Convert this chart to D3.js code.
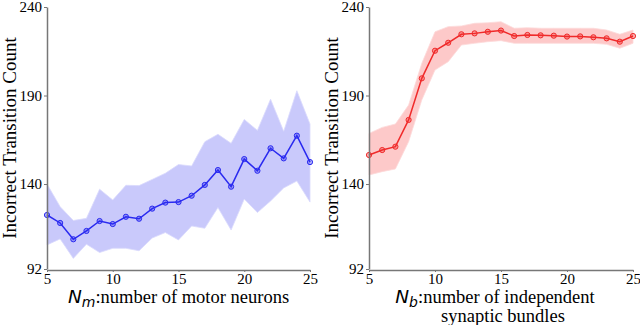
<!DOCTYPE html>
<html>
<head>
<meta charset="utf-8">
<script src="https://cdn.jsdelivr.net/npm/d3@7"></script>
<style>
body { margin: 0; background: #fff; }
.axis text { font-family: "Liberation Serif", "Times New Roman", serif; font-size: 15px; fill: #000; }
.axis path, .axis line { stroke: #777; }
.lbl { font-family: "Liberation Serif", "Times New Roman", serif; font-size: 19px; fill: #000; }
.xl { font-size: 18.5px; }
.math { font-family: "DejaVu Sans", sans-serif; font-style: oblique; }
</style>
</head>
<body>
<div id="chart"></div>
<script>
// x values shared by both panels
var xVals = d3.range(5, 26);

// left panel: number of motor neurons
var motorMean  = [122.5, 118.0, 108.8, 113.5, 119.1, 117.4, 121.5, 120.4, 126.1, 129.5, 129.8,
                  133.4, 139.5, 147.9, 138.5, 154.1, 147.5, 160.2, 154.5, 167.3, 152.4];
var motorUpper = [140.0, 127.2, 119.4, 120.6, 137.1, 131.0, 139.3, 139.1, 142.6, 146.1, 151.0,
                  150.2, 163.9, 168.1, 163.0, 176.5, 170.3, 187.9, 169.8, 192.7, 173.9];
var motorLower = [105.6, 109.0, 98.0, 106.0, 101.3, 103.7, 103.7, 102.3, 109.5, 112.6, 108.4,
                  116.3, 115.0, 126.7, 114.0, 131.5, 123.9, 130.4, 137.8, 141.7, 129.8];

// right panel: number of independent synaptic bundles
var bundleMean  = [156.4, 159.2, 161.1, 176.2, 199.7, 215.3, 219.8, 224.6, 225.1, 226.0, 226.7,
                   223.6, 224.2, 224.0, 223.8, 223.3, 223.4, 222.9, 222.3, 220.4, 223.6];
var bundleUpper = [168.6, 172.0, 173.9, 184.6, 208.2, 226.0, 228.9, 229.3, 230.8, 231.1, 231.7,
                   228.0, 228.3, 228.0, 228.0, 228.0, 228.0, 228.0, 227.0, 224.6, 227.0];
var bundleLower = [145.1, 147.0, 148.5, 163.9, 187.5, 204.4, 209.1, 218.5, 219.5, 220.4, 221.0,
                   219.5, 219.5, 219.5, 219.5, 219.5, 219.5, 219.5, 218.9, 216.7, 219.5];

var yTicks = [92, 140, 190, 240];
var xTicks = [5, 10, 15, 20, 25];

var svg = d3.select("#chart").append("svg")
    .attr("width", 640)
    .attr("height", 325);

function drawPanel(opt) {
    var x = d3.scaleLinear().domain([5, 25]).range([opt.left, opt.right]);
    var y = d3.scaleLinear().domain([92, 240]).range([269, 7]);

    var rows = xVals.map(function(v, i) {
        return {x: v, m: opt.mean[i], hi: opt.upper[i], lo: opt.lower[i]};
    });

    var g = svg.append("g");

    // shaded band
    g.append("path")
        .datum(rows)
        .attr("d", d3.area()
            .x(function(d) { return x(d.x); })
            .y0(function(d) { return y(d.lo); })
            .y1(function(d) { return y(d.hi); }))
        .style("fill", opt.band)
        .style("stroke", opt.bandEdge)
        .style("stroke-width", 0.8);

    // mean line
    g.append("path")
        .datum(rows)
        .attr("d", d3.line()
            .x(function(d) { return x(d.x); })
            .y(function(d) { return y(d.m); }))
        .style("fill", "none")
        .style("stroke", opt.color)
        .style("stroke-width", 1.5);

    g.selectAll(".dot")
        .data(rows)
        .enter()
        .append("circle")
        .attr("cx", function(d) { return x(d.x); })
        .attr("cy", function(d) { return y(d.m); })
        .attr("r", 2.6)
        .style("fill", opt.dotFill)
        .style("stroke", opt.color)
        .style("stroke-width", 1);

    // axes
    g.append("g")
        .attr("class", "axis")
        .attr("transform", "translate(" + opt.left + ",0)")
        .call(d3.axisLeft(y).tickValues(yTicks).tickSize(3).tickSizeOuter(0).tickPadding(2))
        .select(".domain").style("stroke-width", 1.5);

    g.append("g")
        .attr("class", "axis")
        .attr("transform", "translate(0,270)")
        .call(d3.axisBottom(x).tickValues(xTicks).tickSize(2).tickSizeOuter(0).tickPadding(1))
        .select(".domain").style("stroke-width", 1.5);

    // y label
    g.append("text")
        .attr("class", "lbl")
        .attr("text-anchor", "middle")
        .attr("transform", "translate(" + (opt.left - 31) + ",138) rotate(-90)")
        .text("Incorrect Transition Count");

    // x label
    var cx = (opt.left + opt.right) / 2;
    var t = g.append("text")
        .attr("class", "lbl xl")
        .attr("text-anchor", "middle")
        .attr("x", cx + opt.labelShift)
        .attr("y", 303);
    t.append("tspan").attr("class", "math").text("N");
    t.append("tspan").attr("class", "math").attr("dy", 4).style("font-size", "14px").text(opt.sub);
    t.append("tspan").attr("dy", -4).text(opt.xlabel[0]);
    if (opt.xlabel[1]) {
        g.append("text")
            .attr("class", "lbl xl")
            .attr("text-anchor", "middle")
            .attr("x", cx + 2)
            .attr("y", 322)
            .text(opt.xlabel[1]);
    }
}

drawPanel({
    left: 47, right: 310,
    mean: motorMean, upper: motorUpper, lower: motorLower,
    color: "#2a2af0", band: "#c9c9fb", bandEdge: "#dadafc", dotFill: "rgba(42,42,240,0.35)",
    sub: "m", xlabel: [":number of motor neurons"], labelShift: 0
});

drawPanel({
    left: 369, right: 633,
    mean: bundleMean, upper: bundleUpper, lower: bundleLower,
    color: "#f02a2a", band: "#fdc9c9", bandEdge: "#fddada", dotFill: "rgba(240,42,42,0.35)",
    sub: "b", xlabel: [":number of independent", "synaptic bundles"], labelShift: -6
});
</script>
</body>
</html>
